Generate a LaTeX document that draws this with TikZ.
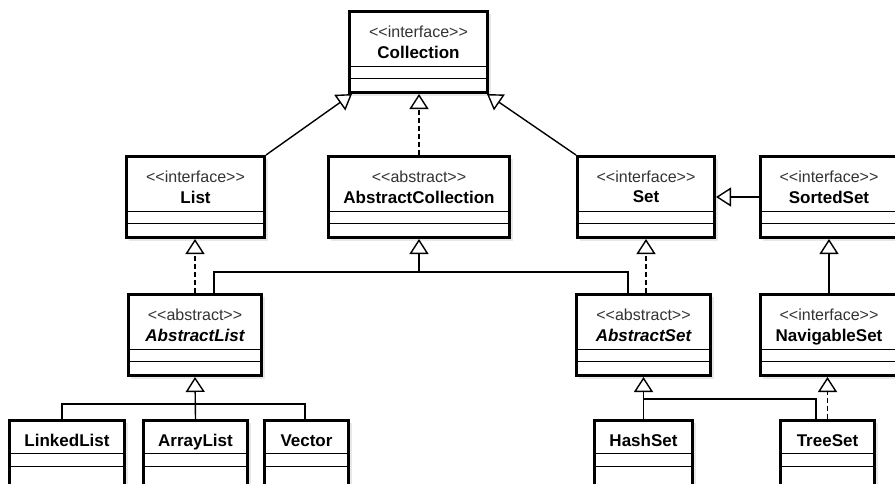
\documentclass[tikz,border=0pt]{standalone}
\usepackage{fontspec}
\setmainfont{Liberation Sans}
\usetikzlibrary{shadows}
\usetikzlibrary{arrows.meta}

\newcommand{\stype}[1]{<\kern0pt<#1>\kern0pt>}

\begin{document}
\begin{tikzpicture}[x=1pt,y=-1pt,
	box/.style={rectangle,draw,line width=2.6pt,fill=white,anchor=north west,
		font=\bfseries\fontsize{17}{20}\selectfont,text depth=0pt,
		drop shadow={shadow xshift=3pt,shadow yshift=-3pt,opacity=0.18}},
	parts/.style 2 args={path picture={
		\draw[line width=1.2pt] ([yshift=-#1]path picture bounding box.north west) -- ([yshift=-#1]path picture bounding box.north east);
		\draw[line width=1.2pt] ([yshift=-#2]path picture bounding box.north west) -- ([yshift=-#2]path picture bounding box.north east);}},
	class/.style={box,minimum height=81.4pt,parts={55pt}{67pt}},
	leaf/.style={box,minimum height=66pt,text height=13pt,text depth=27.6pt,parts={33pt}{46pt}},
	stereo/.style={anchor=center,yshift=-22pt,font=\fontsize{16}{18}\selectfont,text=black!80,text depth=0pt},
	link/.style={line width=1.4pt},
	inherit/.style={link,-{Triangle[fill=white,length=15pt,width=19pt]}},
	implement/.style={inherit,dash pattern=on 5pt off 3pt}]

	\useasboundingbox[fill=white] (0,0) rectangle (895,483);

	% interfaces and abstract classes
	\node[class,minimum width=138.4pt,label={[stereo]north:\stype{interface}}] (coll) at (348,10) {Collection};
	\node[class,minimum width=138.4pt,label={[stereo]north:\stype{interface}}] (list) at (125,155) {List};
	\node[class,minimum width=181.4pt,label={[stereo]north:\stype{abstract}}] (abscoll) at (327,155) {AbstractCollection};
	\node[class,minimum width=137.4pt,label={[stereo]north:\stype{interface}}] (set) at (576,155) {Set};
	\node[class,minimum width=137.4pt,label={[stereo]north:\stype{interface}}] (sorted) at (759,155) {SortedSet};
	\node[class,minimum width=133.4pt,label={[stereo]north:\stype{abstract}}] (abslist) at (127,293) {\itshape AbstractList};
	\node[class,minimum width=134.4pt,label={[stereo]north:\stype{abstract}}] (absset) at (575,293) {\itshape AbstractSet};
	\node[class,minimum width=137.4pt,label={[stereo]north:\stype{interface}}] (navset) at (759,293) {NavigableSet};

	% concrete classes
	\node[leaf,minimum width=115.4pt] (linked) at (8,419) {LinkedList};
	\node[leaf,minimum width=104.4pt] (array) at (142,419) {ArrayList};
	\node[leaf,minimum width=84.4pt] (vector) at (263,419) {Vector};
	\node[leaf,minimum width=98.4pt] (hash) at (593,419) {HashSet};
	\node[leaf,minimum width=94.4pt] (tree) at (779,419) {TreeSet};

	\coordinate (jcoll) at (419,272);
	\coordinate (jlist) at (195.5,404);
	\coordinate (jset) at (643.5,399);

	\draw[inherit] (list.north east) -- ([xshift=4pt]coll.south west);
	\draw[implement] (abscoll.north) -- (abscoll.north |- coll.south);
	\draw[inherit] (set.north west) -- ([xshift=-2pt]coll.south east);
	\draw[inherit] (sorted.west) -- (set.east);
	\draw[implement] (abslist.north) -- (abslist.north |- list.south);
	\draw[inherit] ([xshift=19pt]abslist.north) |- (jcoll) -- (abscoll.south);
	\draw[link] ([xshift=-15.5pt]absset.north) |- (jcoll);
	\draw[implement] ([xshift=2.5pt]absset.north) -- (set.south);
	\draw[inherit] (navset.north) -- (sorted.south);
	\draw[inherit] (array.north) -- (abslist.south);
	\draw[link] ([xshift=-5pt]linked.north) |- (jlist) -| ([xshift=-1.5pt]vector.north);
	\draw[inherit] (hash.north) -- (absset.south);
	\draw[link] ([xshift=-11.5pt]tree.north) |- (jset);
	\draw[implement] (tree.north) -- (tree.north |- navset.south);
\end{tikzpicture}
\end{document}
